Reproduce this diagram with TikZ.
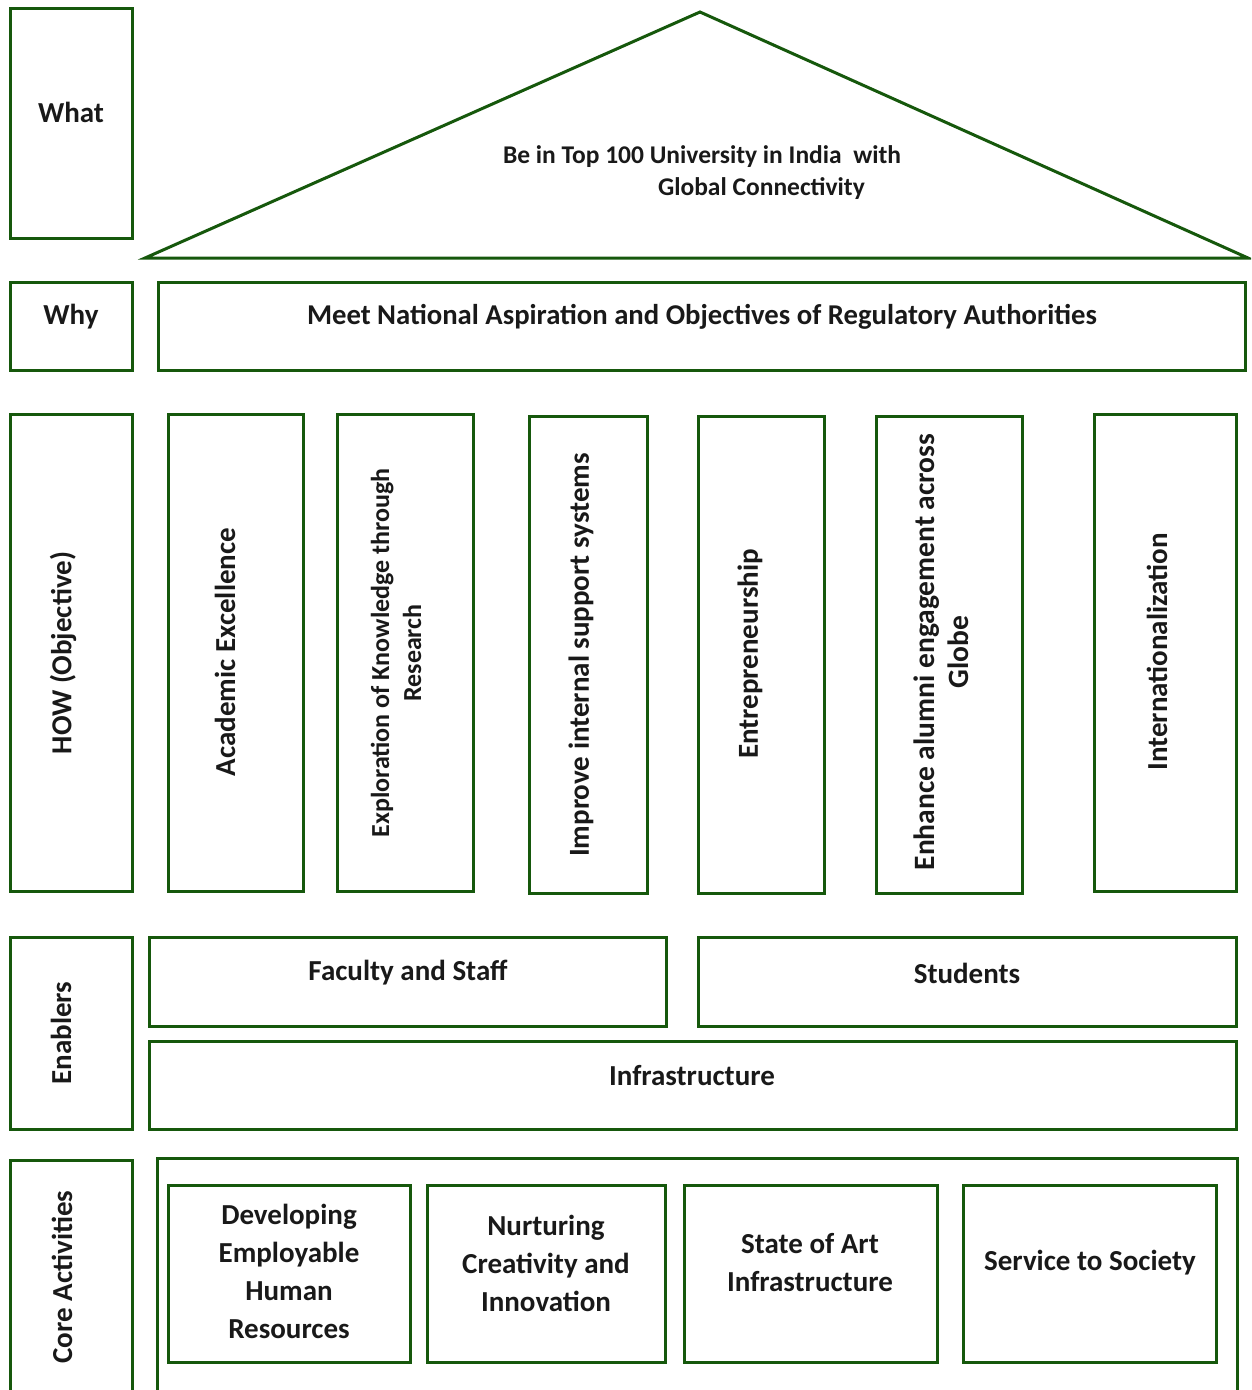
\documentclass[tikz,border=0pt]{standalone}
\usepackage{fontspec}
\setmainfont{Carlito}
\definecolor{boxgreen}{RGB}{22,88,12}
\newcommand\bx[5]{\node[box, minimum width={#4-#2}, minimum height={#5-#3}] (#1) at ({(#2+#4)/2},{(#3+#5)/2}) {};}
\begin{document}
\begin{tikzpicture}[x=1pt,y=-1pt,
  box/.style={draw=boxgreen, line width=3pt, inner sep=0pt, fill=none},
  txt/.style={font=\bfseries\fontsize{29}{38}\selectfont, align=center, inner sep=0pt, text=black!90},
  vtxt/.style={txt, rotate=90}]
\useasboundingbox (0,0) rectangle (1251,1390);
\clip (0,0) rectangle (1251,1390);
% triangle
\coordinate (apex) at (700,12);
\coordinate (bl) at (145,258);
\coordinate (br) at (1248,258);
\draw[boxgreen, line width=3pt, line join=miter] (apex) -- (br) -- (bl) -- cycle;
\node[txt, font=\bfseries\fontsize{25.5}{32}\selectfont, align=left] (goal) at (702,173) {Be in Top 100 University in India\ \ with\\\hspace{155pt}Global Connectivity};
% row labels
\bx{what}{10}{8}{132}{238}
\node[txt] (whatt) at (71,112) {What};
\bx{why}{10}{282}{132}{370}
\node[txt] (whyt) at (71,317) {Why};
\bx{whybox}{158}{282}{1245}{370}
\node[txt, font=\bfseries\fontsize{28.7}{38}\selectfont] (whybt) at (702,317) {Meet National Aspiration and Objectives of Regulatory Authorities};
% how
\bx{how}{10}{414}{132}{891}
\node[vtxt] (howt) at (63,653) {HOW (Objective)};
\bx{c1}{168}{414}{303}{891}
\node[vtxt] (c1t) at (225,652) {Academic Excellence};
\bx{c2}{337}{414}{473}{891}
\node[vtxt, font=\bfseries\fontsize{26}{32}\selectfont] (c2t) at (396,653) {Exploration of Knowledge through\\Research};
\bx{c3}{529}{416}{647}{893}
\node[vtxt] (c3t) at (581,655) {Improve internal support systems};
\bx{c4}{698}{416}{824}{893}
\node[vtxt] (c4t) at (750,654) {Entrepreneurship};
\bx{c5}{876}{416}{1022}{893}
\node[vtxt, font=\bfseries\fontsize{29.5}{34}\selectfont] (c5t) at (941,652) {Enhance alumni engagement across\\Globe};
\bx{c6}{1094}{414}{1236}{891}
\node[vtxt] (c6t) at (1157,652) {Internationalization};
% enablers
\bx{en}{10}{937}{132}{1129}
\node[vtxt] (ent) at (61,1033) {Enablers};
\bx{fac}{149}{937}{666}{1026}
\node[txt] (fact) at (408,973) {Faculty and Staff};
\bx{stu}{698}{937}{1236}{1026}
\node[txt] (stut) at (967,973) {Students};
\bx{inf}{149}{1041}{1236}{1129}
\node[txt] (inft) at (692,1076) {Infrastructure};
% core activities
\draw[boxgreen, line width=3pt] (10,1400) |- (132,1160) -- (132,1400);
\node[vtxt] (coret) at (62,1277) {Core Activities};
\draw[boxgreen, line width=3pt] (157,1400) |- (1237,1158) -- (1237,1400);
\bx{a1}{168}{1185}{410}{1362}
\node[txt] (a1t) at (289,1271) {Developing\\Employable\\Human\\Resources};
\bx{a2}{427}{1185}{665}{1362}
\node[txt] (a2t) at (546,1263) {Nurturing\\Creativity and\\Innovation};
\bx{a3}{684}{1185}{937}{1362}
\node[txt] (a3t) at (810,1263) {State of Art\\Infrastructure};
\bx{a4}{963}{1185}{1216}{1362}
\node[txt] (a4t) at (1090,1263) {Service to Society};
\end{tikzpicture}
\end{document}
